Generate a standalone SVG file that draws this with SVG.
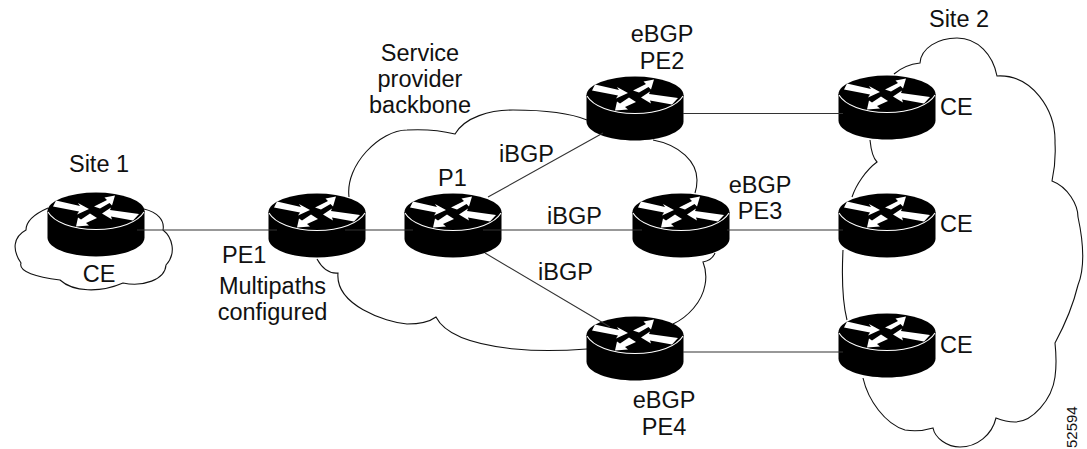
<svg xmlns="http://www.w3.org/2000/svg" width="1087" height="449" viewBox="0 0 1087 449">
<style>
text{font-family:"Liberation Sans",Arial,sans-serif;font-size:23.500px;fill:#111}
.m{text-anchor:middle}
.cloud{fill:none;stroke:#111;stroke-width:1.100}
.link{fill:none;stroke:#333;stroke-width:1.100}
.a{fill:#fff}
</style>
<defs>
<g id="router">
<path d="M-48.500 0V26.500C-48.500 37 -27 45.500 0 45.500S48.500 37 48.500 26.500V0Z" fill="#000"/>
<ellipse cx="0" cy="0" rx="48.500" ry="18.500" fill="#000"/>
<path d="M-48 1C-42 11 -24 18.500 0 18.500S42 11 48 1" fill="none" stroke="#fff" stroke-width="1.100"/>
<path class="a" d="M-40-10.500L-16-5L-18-8L-7-2L-19 3.500L-17 .5L-43-4.500Z"/>
<path class="a" d="M-2-4.500L11-11L8.500-13.500L19-15.500L16-5.500L13.500-8L4-2.500Z"/>
<path class="a" d="M6 2.500L15-3.500L14-1L43 3L37 9.500L15 5.500L16 8.500Z"/>
<path class="a" d="M-20 15.500L-18 6.500L-15 8.500L-6 2.500L1 7L-10 12L-7 14.500Z"/>
</g>
</defs>
<g id="clouds">
<path id="cloud-site1" class="cloud" d="M48 208C32 215 26 222 26 230C13 237 12 250 21 263C18 272 37 277 60 280C73 292 100 293 123 283C143 287 165 280 166 265C177 253 172 237 163 230C165 220 157 212 144 209"/>
<path id="cloud-backbone" class="cloud" d="M349 197C345 165 380 130 407 130C425 129 443 131 455 134C465 117 490 110 513 110C545 110 570 113 587 120M653 140C680 145 697 162 697 180C697 186 696 190 695 193M715 253C713 258 708 261 703 262C707 272 706 280 705 285C702 302 688 317 673 324M587 349C560 351 535 351 515 349C475 345 445 335 436 317C428 323 415 324 407 324C385 322 335 305 338 273C328 274 322 268 317 259"/>
<path id="cloud-site2" class="cloud" d="M894 74C902 67 911 64 920 63C921 48 938 38 957 38C978 38 993 55 997 76C1032 74 1056 110 1055 143C1056 160 1054 172 1052 181C1068 187 1078 205 1078 217C1084 245 1084 270 1078 285C1072 310 1062 330 1055 343C1057 362 1056 370 1055 377C1052 400 1032 422 1015 422C1008 422 1001 420 996 418C992 435 977 447 960 447C947 447 935 438 933 428C920 432 912 431 905 430C885 424 868 400 863 378M870 140C871 150 873 158 877 162C866 170 856 185 852 197M843 250C842 270 842 300 847 320"/>
</g>
<g id="ce1"><use href="#router" x="96" y="211"/></g>
<g id="pe1"><use href="#router" x="317" y="212"/></g>
<g id="p1"><use href="#router" x="453" y="212"/></g>
<g id="pe2"><use href="#router" x="635" y="95"/></g>
<g id="pe3"><use href="#router" x="681" y="212"/></g>
<g id="pe4"><use href="#router" x="635" y="335"/></g>
<g id="ce2"><use href="#router" x="887" y="94"/></g>
<g id="ce3"><use href="#router" x="887" y="212"/></g>
<g id="ce4"><use href="#router" x="887" y="332"/></g>
<g id="connectors">
<path class="link" d="M137 230H277M345 230H413M483 230H642M727 230H843M683 113.500H843M683 352H843M488 197L603 133M485 253L610 327"/>
</g>
<g id="labels">
<text x="99" y="172" class="m">Site 1</text>
<text x="99" y="282" class="m">CE</text>
<text x="222" y="263">PE1</text>
<text x="272.500" y="294" class="m">Multipaths</text>
<text x="272.500" y="320" class="m">configured</text>
<text x="420" y="61" class="m">Service</text>
<text x="420" y="87" class="m">provider</text>
<text x="420" y="113" class="m">backbone</text>
<text x="662" y="42" class="m">eBGP</text>
<text x="662" y="69" class="m">PE2</text>
<text x="438" y="186">P1</text>
<text x="499" y="162">iBGP</text>
<text x="547" y="224">iBGP</text>
<text x="538" y="280">iBGP</text>
<text x="760" y="193" class="m">eBGP</text>
<text x="760" y="219" class="m">PE3</text>
<text x="664" y="408" class="m">eBGP</text>
<text x="664" y="435" class="m">PE4</text>
<text x="959" y="27" class="m">Site 2</text>
<text x="940" y="115">CE</text>
<text x="940" y="232">CE</text>
<text x="940" y="353">CE</text>
<text transform="translate(1077 448) rotate(-90)" style="font-size:15px">52594</text>
</g>
</svg>
